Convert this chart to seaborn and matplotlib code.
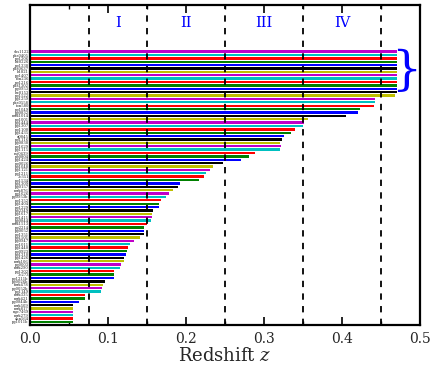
import numpy as np
import pandas as pd
import matplotlib
matplotlib.use("Agg")
import matplotlib.pyplot as plt
import seaborn as sns
from matplotlib.ticker import MultipleLocator

# Sightline names (top to bottom) and their redshift extent
names = [
    "sbs1122", "pks0405", "pg1206", "he0226", "pg1338", "pks0637", "h1821",
    "pg1407", "ton236", "pg1216", "pks1302", "pg0953", "he0153", "pg1522",
    "pg1259", "pks0558", "ton580", "pg1049", "pg0832", "mrk1014", "pg1001",
    "pg1444", "pg1307", "pg1100", "pg1435", "q0045", "pg1116", "pg0838",
    "pg1629", "pg1115", "rxj0439", "pg0804", "pg1424", "pg0026", "pg1048",
    "pg1121", "pg1211", "3c351", "pg1534", "pg1309", "pg0157", "mrk876",
    "pg1626", "pg0953b", "pg1352", "pg1404", "pg1229", "pg2349", "pg1617",
    "pg1411", "pg0844", "mrk1513", "pg2214", "pg0052", "pg1351", "pg1501",
    "pg0947", "pg1011", "pg1440", "pg0923", "pg1310", "pg1426", "mrk106",
    "pg0003", "mrk290", "pg1202", "3c273", "pg1211b", "pg0026b", "mrk478",
    "pg0052b", "pg1149", "mrk335", "mrk421", "pg0844b", "mrk509", "mrk817",
    "ngc7469", "mrk279", "akn564", "pg1011b",
]
zmax = [
    0.471, 0.471, 0.471, 0.471, 0.471, 0.471, 0.471,
    0.471, 0.471, 0.471, 0.471, 0.471, 0.471, 0.468,
    0.442, 0.442, 0.4406, 0.4227, 0.421, 0.4047, 0.357,
    0.351, 0.350, 0.340, 0.335, 0.326, 0.3227, 0.321,
    0.3214, 0.321, 0.288, 0.281, 0.270, 0.2467, 0.234,
    0.231, 0.226, 0.223, 0.2163, 0.1915, 0.190, 0.1833,
    0.1774, 0.1744, 0.1676, 0.165, 0.1646, 0.158, 0.1565,
    0.1556, 0.1543, 0.150, 0.146, 0.146, 0.1454, 0.141,
    0.1333, 0.128, 0.1253, 0.1244, 0.1227, 0.120, 0.1205,
    0.117, 0.1146, 0.108, 0.1077, 0.1077, 0.0954, 0.0928,
    0.0915, 0.091, 0.0705, 0.070, 0.0624, 0.055, 0.055,
    0.055, 0.0543, 0.0543, 0.0543,
]
# classic magenta, cyan, red, green, blue, black, yellow
color_cycle = ["#c000c8", "#00c0c0", "#ff0000", "#008000", "#0000ff",
               "#000000", "#bfbf00"]
boundaries = [0.075, 0.15, 0.25, 0.35, 0.45]
region_labels = ["I", "II", "III", "IV"]
region_centers = [0.1125, 0.2, 0.3, 0.4]

sns.set_theme(style="ticks", color_codes=False)
plt.rcParams["font.family"] = ["DejaVu Serif"]
plt.rcParams["mathtext.fontset"] = "dejavuserif"

df = pd.DataFrame({"name": names, "z": zmax})
palette = [color_cycle[i % len(color_cycle)] for i in range(len(names))]

fig = plt.figure(figsize=(4.36, 3.72), dpi=100)
ax = fig.add_axes([0.0695, 0.1263, 0.8935, 0.8603])

sns.barplot(data=df, x="z", y="name", hue="name", palette=palette,
            orient="h", width=0.7, saturation=1, legend=False, ax=ax,
            linewidth=0, order=names, hue_order=names)

for b in boundaries:
    ax.axvline(b, color="k", linestyle=(0, (3.5, 3.5)), linewidth=1.3, zorder=3)

for c, lab in zip(region_centers, region_labels):
    ax.text(c, -8.5, lab, color="blue", fontsize=10.5, ha="center", va="center")

ax.text(0.483, 5.8, "}", color="blue", fontsize=34, ha="center", va="center",
        fontweight="light")

ax.set_xlim(0, 0.5)
ax.set_ylim(80.9, -13.8)
ax.xaxis.set_major_locator(MultipleLocator(0.1))
ax.xaxis.set_minor_locator(MultipleLocator(0.05))
ax.tick_params(axis="x", which="major", direction="in", length=6, width=1.2,
               top=True, labelsize=10, pad=5, color="k")
ax.tick_params(axis="x", which="minor", direction="in", length=3, width=1,
               top=True, color="k")
ax.tick_params(axis="y", which="both", length=0, labelsize=2.7, pad=1)
ax.set_ylabel("")
ax.set_xlabel("Redshift $z$", fontsize=13, labelpad=1)
for s in ax.spines.values():
    s.set_linewidth(1.6)
    s.set_color("k")

fig.savefig("out.png", dpi=100)
